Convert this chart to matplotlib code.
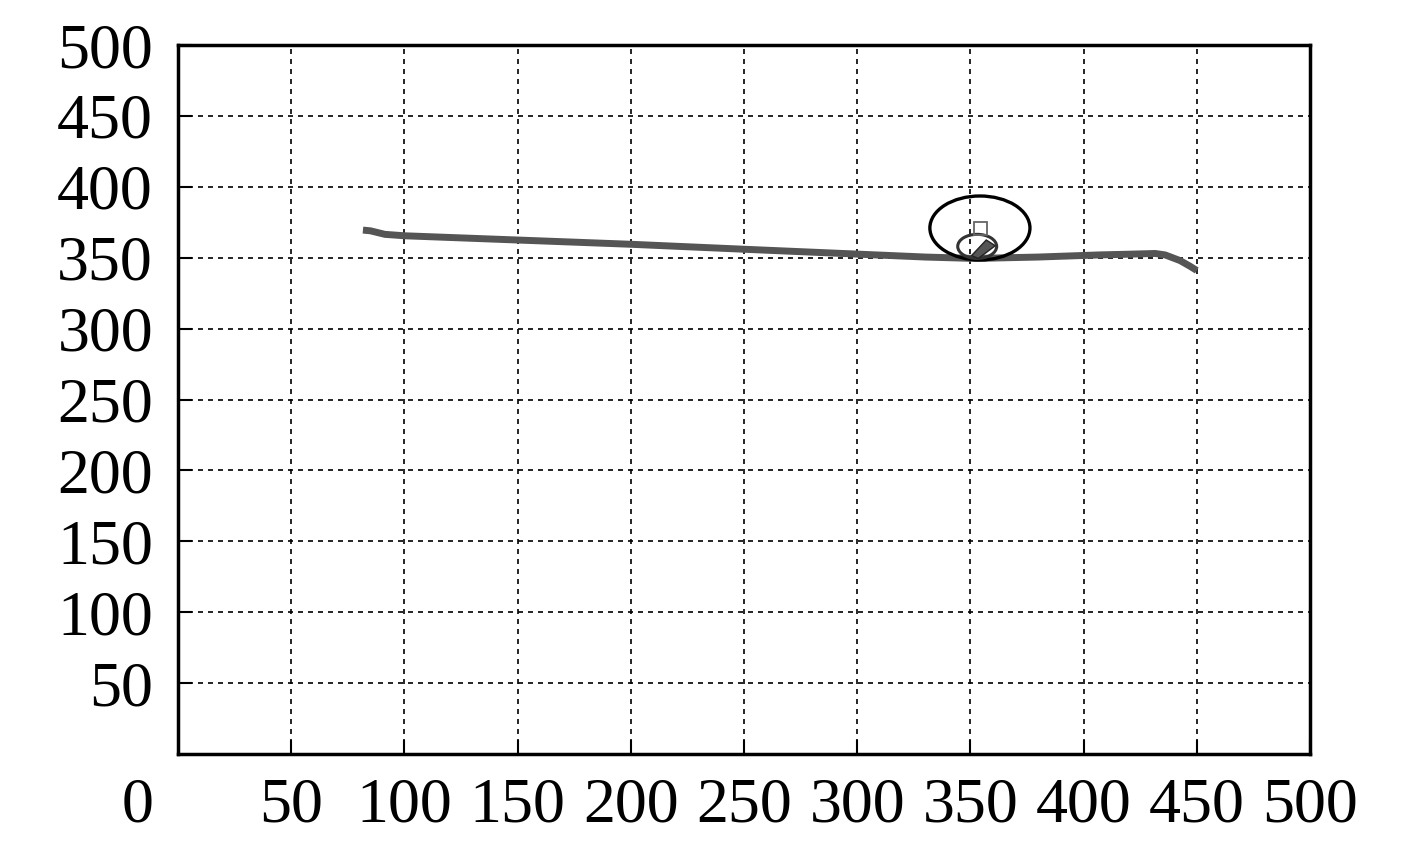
import matplotlib
matplotlib.use('Agg')
import matplotlib.pyplot as plt
from matplotlib.patches import Ellipse, Rectangle, Polygon
import numpy as np

# trajectory
traj_x = [81.7, 85, 91.4, 100, 150, 200, 250, 301, 330, 352, 380, 407, 420, 431.6, 436, 442.6, 447, 450]
traj_y = [369.5, 369, 366.5, 365.5, 362.5, 359.5, 356, 352.5, 350.5, 349.5, 350.5, 352, 352.5, 353, 352, 348, 344, 341]

# big and small ellipse (center x, center y, width, height)
big_ell = [354.2, 371.0, 44.2, 45.1]
small_ell = [353.0, 358.0, 17.2, 17.0]
# target square (center x, center y, width, height)
square = [354.4, 370.6, 5.7, 9.2]
# vehicle marker outline
veh_x = [350.5, 357.0, 361.0, 353.5]
veh_y = [351.5, 362.5, 358.5, 349.5]

x_ticks = [50, 100, 150, 200, 250, 300, 350, 400, 450, 500]
y_ticks = [50, 100, 150, 200, 250, 300, 350, 400, 450, 500]

plt.rcParams['font.family'] = ['Liberation Serif', 'DejaVu Serif']

fig = plt.figure(figsize=(14.17, 8.5), dpi=100)
ax = fig.add_axes([0.1256, 0.1129, 0.7989, 0.8341])

ax.plot(traj_x, traj_y, color='#555555', lw=5, solid_capstyle='butt', zorder=3)

ax.add_patch(Ellipse((big_ell[0], big_ell[1]), big_ell[2], big_ell[3],
                     fill=False, ec='black', lw=2.4, zorder=4))
ax.add_patch(Ellipse((small_ell[0], small_ell[1]), small_ell[2], small_ell[3],
                     fill=False, ec='#333333', lw=2.2, zorder=4))
ax.add_patch(Rectangle((square[0] - square[2] / 2, square[1] - square[3] / 2),
                       square[2], square[3], fill=False, ec='#666666', lw=1.3, zorder=4))
ax.add_patch(Polygon(np.column_stack([veh_x, veh_y]), closed=True,
                     fc='#555555', ec='#222222', lw=1.0, zorder=5))

ax.set_xlim(0, 500)
ax.set_ylim(0, 500)
ax.set_xticks(x_ticks)
ax.set_yticks(y_ticks)
ax.grid(True, color='black', ls=(0, (3, 3)), lw=1.2)
ax.set_axisbelow(True)
ax.tick_params(direction='in', length=10, width=1.5, labelsize=46,
               top=False, right=False)
ax.tick_params(axis='x', pad=17)
ax.tick_params(axis='y', pad=18)
for s in ax.spines.values():
    s.set_linewidth(2.5)

# shared origin label
ax.annotate('0', xy=(0, 0), xycoords='axes fraction', xytext=(-29, -17),
            textcoords='offset points', fontsize=46, ha='center', va='top')

fig.savefig('out.png', dpi=100)
